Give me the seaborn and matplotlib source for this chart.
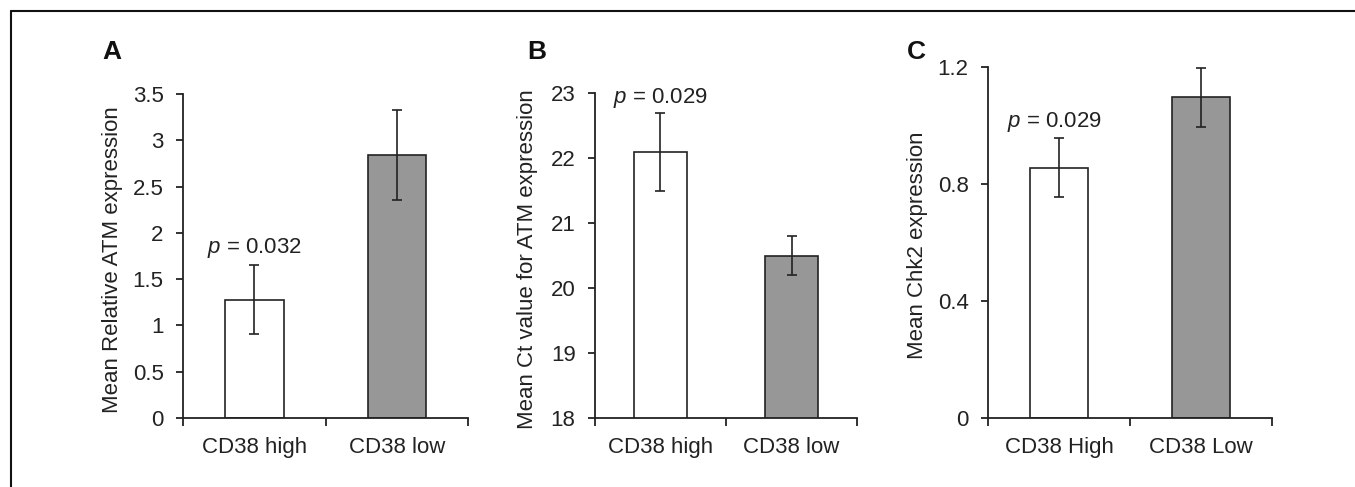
import matplotlib
matplotlib.use("Agg")
import matplotlib.pyplot as plt
from matplotlib.lines import Line2D
import numpy as np
import seaborn as sns

# data
groups_ab = ["CD38 high", "CD38 low"]
groups_c = ["CD38 High", "CD38 Low"]

atm_rel = [1.28, 2.84]
atm_rel_err = [0.37, 0.49]

atm_ct = [22.1, 20.5]
atm_ct_err = [0.6, 0.3]

chk2 = [0.855, 1.095]
chk2_err = [0.10, 0.10]

p_values = ["0.032", "0.029", "0.029"]

sns.set_style("ticks")
plt.rcParams["font.family"] = ["Liberation Sans", "DejaVu Sans"]
plt.rcParams["mathtext.fontset"] = "custom"
plt.rcParams["mathtext.it"] = "Liberation Sans:italic"
plt.rcParams["mathtext.rm"] = "Liberation Sans"

INK = "#222222"
FILLS = ["#ffffff", "#979797"]
FS = 16

fig = plt.figure(figsize=(13.55, 4.87), dpi=100)

panels = [
    dict(rect=[0.1351, 0.1417, 0.2103, 0.6653], cats=groups_ab, vals=atm_rel, err=atm_rel_err,
         ylim=(0, 3.5), yticks=[0, 0.5, 1, 1.5, 2, 2.5, 3, 3.5],
         ylabels=["0", "0.5", "1", "1.5", "2", "2.5", "3", "3.5"],
         ylabel="Mean Relative ATM expression", lab_x=-0.21, p_xy=(0.0, 1.84),
         letter="A", letter_x=112),
    dict(rect=[0.4391, 0.1417, 0.1934, 0.6670], cats=groups_ab, vals=atm_ct, err=atm_ct_err,
         ylim=(18, 23), yticks=[18, 19, 20, 21, 22, 23],
         ylabels=["18", "19", "20", "21", "22", "23"],
         ylabel="Mean Ct value for ATM expression", lab_x=-0.218, p_xy=(0.0, 22.93),
         letter="B", letter_x=537),
    dict(rect=[0.7292, 0.1423, 0.2096, 0.7207], cats=groups_c, vals=chk2, err=chk2_err,
         ylim=(0, 1.2), yticks=[0, 0.4, 0.8, 1.2],
         ylabels=["0", "0.4", "0.8", "1.2"],
         ylabel="Mean Chk2 expression", lab_x=-0.211, p_xy=(-0.03, 1.012),
         letter="C", letter_x=916),
]

for i, p in enumerate(panels):
    ax = fig.add_axes(p["rect"])
    sns.barplot(x=p["cats"], y=p["vals"], hue=p["cats"], palette=FILLS, legend=False,
                width=0.41, edgecolor=INK, linewidth=1.2, errorbar=None, ax=ax)
    ax.errorbar(np.arange(len(p["cats"])), p["vals"], yerr=p["err"], fmt="none",
                ecolor=INK, elinewidth=1.2, capsize=3.6, capthick=1.2)

    ax.set_xlim(-0.5, 1.5)
    ax.set_ylim(*p["ylim"])
    ax.set_yticks(p["yticks"])
    ax.set_yticklabels(p["ylabels"])
    ax.set_xticks([-0.5, 0.5, 1.5], minor=True)
    ax.tick_params(axis="x", which="major", length=0, pad=14, labelsize=FS, labelcolor=INK)
    ax.tick_params(axis="x", which="minor", length=6, width=1.3, color=INK, direction="out")
    ax.tick_params(axis="y", length=5, width=1.3, color=INK, pad=9, labelsize=FS,
                   labelcolor=INK, direction="out")
    sns.despine(ax=ax)
    for s in ["left", "bottom"]:
        ax.spines[s].set_linewidth(1.3)
        ax.spines[s].set_color(INK)

    ax.set_ylabel(p["ylabel"], fontsize=FS, color=INK)
    ax.yaxis.set_label_coords(p["lab_x"], 0.49)
    ax.set_xlabel("")

    ax.text(p["p_xy"][0], p["p_xy"][1], r"$\mathit{p}$ = " + p_values[i],
            ha="center", va="center", fontsize=FS, color=INK)

    fig.text(p["letter_x"] / 1355, 1 - 52 / 487, p["letter"], ha="center", va="center",
             fontsize=19, fontweight="bold", color="#111111")

# frame lines (top and left of the figure border)
fy = 1 - 10.5 / 487
fx = 10.5 / 1355
fig.add_artist(Line2D([fx, 1], [fy, fy], transform=fig.transFigure, color="#111111", lw=1.5))
fig.add_artist(Line2D([fx, fx], [0, fy], transform=fig.transFigure, color="#111111", lw=1.5))

fig.savefig("out.png", dpi=100)
